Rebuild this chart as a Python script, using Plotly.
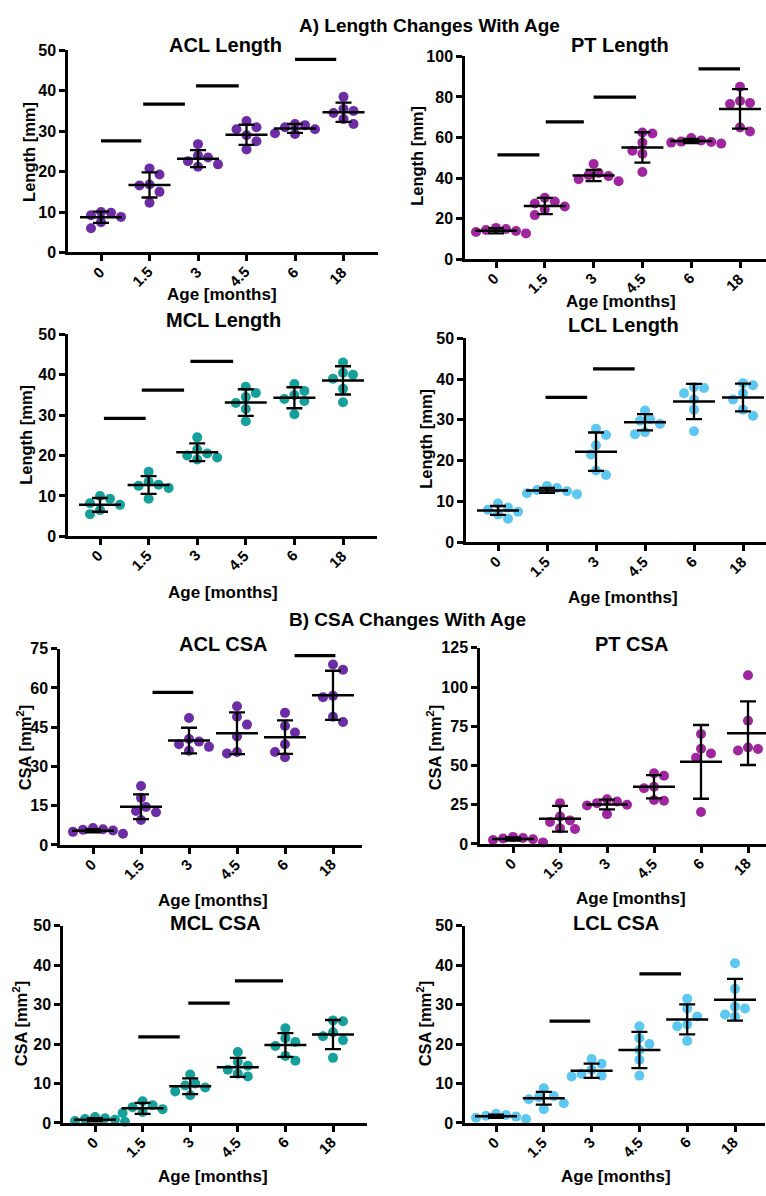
import numpy as np
import plotly.graph_objects as go

W, H = 766, 1196
FONT = "Liberation Sans, Arial, sans-serif"

ages = ["0", "1.5", "3", "4.5", "6", "18"]

# ---------------- data ----------------
acl_len_pts = [[9.8, 9.2, 10.0, 8.8, 7.5, 6.0], [20.8, 19.3, 16.8, 16.6, 15.0, 12.3],
               [26.8, 24.0, 23.5, 22.6, 21.8, 21.2], [32.5, 31.0, 30.5, 29.0, 27.5, 25.5],
               [31.5, 31.8, 31.0, 30.5, 29.5, 29.3], [38.5, 35.5, 35.0, 34.5, 33.0, 31.8]]
acl_len_mean = [8.7, 16.7, 23.2, 29.1, 30.7, 34.7]
acl_len_sd = [1.4, 3.1, 2.1, 2.5, 1.1, 2.4]
acl_len_sig = [(0.0, 0.83, 27.6), (0.87, 1.73, 36.7), (1.96, 2.84, 41.2), (4.0, 4.85, 47.8)]

pt_len_pts = [[15.5, 15.0, 14.5, 14.0, 13.5, 12.8], [30.3, 28.5, 27.5, 26.0, 24.5, 21.8],
              [47.0, 42.5, 41.5, 41.0, 39.5, 38.5], [62.5, 62.0, 57.5, 53.5, 52.0, 43.0],
              [59.8, 58.5, 58.0, 57.8, 57.5, 57.0], [85.0, 78.0, 77.0, 76.5, 65.0, 63.0]]
pt_len_mean = [14.1, 26.3, 41.3, 55.1, 58.3, 74.1]
pt_len_sd = [1.3, 4.0, 2.8, 7.5, 1.0, 9.7]
pt_len_sig = [(0.03, 0.89, 51.5), (1.02, 1.8, 67.7), (2.0, 2.87, 79.9), (4.15, 5.0, 93.8)]

mcl_len_pts = [[10.0, 9.3, 8.2, 7.8, 6.5, 5.5], [16.0, 13.5, 12.8, 12.0, 12.5, 9.3],
               [24.5, 21.5, 20.5, 20.0, 19.5, 19.0], [37.0, 35.5, 34.5, 33.0, 31.5, 28.5],
               [37.7, 36.0, 35.0, 34.0, 33.5, 30.2], [43.0, 40.5, 40.0, 39.0, 36.5, 33.2]]
mcl_len_mean = [7.8, 12.7, 20.8, 33.1, 34.3, 38.6]
mcl_len_sd = [1.7, 2.2, 2.2, 3.3, 2.6, 3.5]
mcl_len_sig = [(0.08, 0.94, 29.2), (0.86, 1.73, 36.2), (1.86, 2.74, 43.3)]

lcl_len_pts = [[9.5, 8.5, 8.0, 7.5, 6.8, 5.8], [13.8, 13.3, 12.8, 12.5, 12.0, 11.8],
               [27.8, 26.3, 23.8, 21.5, 17.6, 16.5], [32.3, 30.2, 29.8, 29.0, 27.0, 26.5],
               [38.0, 37.8, 36.5, 35.0, 32.5, 27.2], [39.0, 38.5, 36.5, 35.0, 32.5, 31.0]]
lcl_len_mean = [7.8, 12.7, 22.2, 29.4, 34.5, 35.5]
lcl_len_sd = [1.1, 0.6, 4.7, 2.0, 4.3, 3.4]
lcl_len_sig = [(0.97, 1.82, 35.5), (1.94, 2.79, 42.5)]

acl_csa_pts = [[6.5, 6.0, 5.8, 5.5, 5.0, 4.3], [22.5, 18.0, 14.5, 13.0, 12.5, 9.5],
               [48.5, 40.5, 39.5, 38.5, 37.5, 36.0], [53.0, 49.0, 46.0, 41.5, 35.5, 35.0],
               [50.5, 45.5, 43.0, 38.5, 35.5, 33.5], [69.0, 67.0, 57.0, 56.5, 49.0, 47.0]]
acl_csa_mean = [5.4, 14.6, 39.9, 42.7, 41.2, 57.2]
acl_csa_sd = [0.6, 4.7, 4.9, 8.0, 6.4, 9.4]
acl_csa_sig = [(1.24, 2.09, 58.3), (4.2, 5.05, 72.4)]

pt_csa_pts = [[4.5, 3.8, 3.5, 3.0, 2.5, 1.0], [26.0, 17.5, 15.0, 14.0, 10.0, 9.5],
              [28.5, 27.0, 26.0, 25.0, 24.5, 19.0], [45.0, 43.5, 36.5, 35.5, 28.0, 27.5],
              [70.1, 60.7, 57.6, 54.9, 20.3], [107.5, 78.5, 61.5, 60.5, 59.5, 57.0]]
pt_csa_mean = [3.1, 16.1, 25.1, 36.4, 52.3, 70.6]
pt_csa_sd = [1.0, 8.2, 3.1, 7.4, 23.5, 20.3]
pt_csa_sig = []

mcl_csa_pts = [[1.5, 1.2, 1.0, 0.8, 0.5, 0.3], [5.5, 4.5, 4.0, 3.5, 2.8, 2.5],
               [12.3, 10.0, 9.5, 9.0, 8.0, 7.0], [18.0, 15.5, 14.5, 13.5, 12.5, 11.8],
               [24.0, 21.5, 20.5, 19.5, 17.0, 15.8], [26.0, 25.8, 23.0, 21.0, 22.0, 16.5]]
mcl_csa_mean = [0.8, 3.7, 9.3, 14.1, 19.75, 22.4]
mcl_csa_sd = [0.4, 1.4, 2.0, 2.4, 3.0, 3.7]
mcl_csa_sig = [(0.91, 1.78, 21.8), (1.96, 2.83, 30.4), (2.94, 3.95, 36.0)]

lcl_csa_pts = [[2.3, 2.0, 1.8, 1.6, 1.3, 1.0], [8.8, 6.8, 6.5, 6.0, 5.0, 3.5],
               [16.2, 15.0, 13.5, 12.5, 12.0, 11.8], [24.5, 21.5, 20.0, 18.5, 16.0, 12.0],
               [31.5, 29.0, 27.0, 25.0, 24.5, 20.8], [40.5, 34.0, 29.5, 29.0, 27.5, 27.0]]
lcl_csa_mean = [1.7, 6.25, 13.25, 18.5, 26.25, 31.25]
lcl_csa_sd = [0.4, 1.6, 1.8, 4.6, 3.8, 5.3]
lcl_csa_sig = [(1.12, 1.97, 25.8), (3.0, 3.87, 37.8)]

# colours
PURPLE = "#6c2ca6"
MAGENTA = "#a0269f"
TEAL = "#15a09c"
LBLUE = "#5cc8f2"

LEN_T = "Length [mm]"
CSA_T = "CSA [mm<sup>2</sup>]"

# panel: title, pts, mean, sd, sig, color, ymax, dtick, ytitle,
#        layout px: xl, xr, ytop, y0, cat0, spacing, title(x,y), ytitle(x,y), xtitle(x,y)
panels = [
    ("ACL Length", acl_len_pts, acl_len_mean, acl_len_sd, acl_len_sig, PURPLE, 50, 10, LEN_T,
     (68, 378, 43, 248, 101, 48.5), (225, 38), (29, 146), (222, 291)),
    ("PT Length", pt_len_pts, pt_len_mean, pt_len_sd, pt_len_sig, MAGENTA, 100, 20, LEN_T,
     (465, 766, 49, 255, 496, 48.8), (620, 38), (417, 150), (621, 298)),
    ("MCL Length", mcl_len_pts, mcl_len_mean, mcl_len_sd, mcl_len_sig, TEAL, 50, 10, LEN_T,
     (68, 377, 331, 536, 100, 48.6), (223, 317), (26, 433), (223, 593)),
    ("LCL Length", lcl_len_pts, lcl_len_mean, lcl_len_sd, lcl_len_sig, LBLUE, 50, 10, LEN_T,
     (466, 766, 335, 542, 498, 49.0), (623, 322), (426, 437), (623, 598)),
    ("ACL CSA", acl_csa_pts, acl_csa_mean, acl_csa_sd, acl_csa_sig, PURPLE, 75, 15, CSA_T,
     (60, 362, 650, 849, 93, 48.0), (223, 645), (24, 750), (213, 905)),
    ("PT CSA", pt_csa_pts, pt_csa_mean, pt_csa_sd, pt_csa_sig, MAGENTA, 125, 25, CSA_T,
     (480, 766, 649, 848, 513, 47.0), (631, 645), (434, 750), (631, 903)),
    ("MCL CSA", mcl_csa_pts, mcl_csa_mean, mcl_csa_sd, mcl_csa_sig, TEAL, 50, 10, CSA_T,
     (63, 367, 931, 1131, 95, 47.6), (215, 928), (20, 1030), (213, 1185)),
    ("LCL CSA", lcl_csa_pts, lcl_csa_mean, lcl_csa_sd, lcl_csa_sig, LBLUE, 50, 10, CSA_T,
     (465, 765, 931, 1131, 496, 47.8), (616, 928), (424, 1030), (616, 1185)),
]

DOT = 10


def swarm(vals, py_per_unit, px_per_cat, d=10.0, step=5.0):
    """Simple balanced beeswarm: horizontal offsets (category units)."""
    vals = np.asarray(vals, float)
    order = np.argsort(vals)[::-1]
    placed = []
    offs = np.zeros(len(vals))
    for i in order:
        y = vals[i] * py_per_unit
        k = 0
        while True:
            if k == 0:
                cands = [0.0]
            else:
                right = sum(1 for p, _ in placed if p > 0)
                left = sum(1 for p, _ in placed if p < 0)
                cands = [-k * step, k * step] if right > left else [k * step, -k * step]
            ok = None
            for c in cands:
                if all((c - px) ** 2 + (y - py) ** 2 >= d * d for px, py in placed):
                    ok = c
                    break
            if ok is not None:
                placed.append((ok, y))
                offs[i] = ok / px_per_cat
                break
            k += 1
    return offs


fig = go.Figure()
annotations = []


def px2x(px):
    return px / W


def px2y(py):
    return 1 - py / H


for k, (title, pts, mean, sd, sig, color, ymax, dtick, ytitle,
        box, tpos, ypos, xpos) in enumerate(panels, start=1):
    xl, xr, ytop, y0, cat0, sp = box
    xa = "x" if k == 1 else f"x{k}"
    ya = "y" if k == 1 else f"y{k}"
    py_per_unit = (y0 - ytop) / ymax

    xs, ys = [], []
    for g, vals in enumerate(pts):
        offs = swarm(vals, py_per_unit, sp)
        xs += list(g + offs)
        ys += list(vals)
    fig.add_trace(go.Scatter(x=xs, y=ys, mode="markers", xaxis=xa, yaxis=ya,
                             marker=dict(size=DOT, color=color, line=dict(width=0)),
                             cliponaxis=False, showlegend=False, hoverinfo="y"))
    fig.add_trace(go.Scatter(x=list(range(len(ages))), y=mean, mode="markers", xaxis=xa, yaxis=ya,
                             marker=dict(symbol="line-ew", size=30, color="black",
                                         line=dict(width=2.5, color="black")),
                             error_y=dict(type="data", array=sd, visible=True, color="black",
                                          thickness=2.3, width=8),
                             cliponaxis=False, showlegend=False))
    for (s, e, yv) in sig:
        fig.add_trace(go.Scatter(x=[s, e], y=[yv, yv], mode="lines", xaxis=xa, yaxis=ya,
                                 line=dict(color="black", width=3.2), cliponaxis=False,
                                 showlegend=False, hoverinfo="skip"))

    axis_common = dict(showline=True, linecolor="black", linewidth=2.5, ticks="outside",
                       ticklen=6, tickwidth=2.5, tickcolor="black", showgrid=False,
                       zeroline=False)
    fig.update_layout(**{
        ("xaxis" if k == 1 else f"xaxis{k}"): dict(
            domain=[px2x(xl), px2x(xr)], anchor=ya,
            range=[(xl - cat0) / sp, (xr - cat0) / sp],
            tickmode="array", tickvals=list(range(len(ages))), ticktext=ages,
            showticklabels=False, **axis_common),
        ("yaxis" if k == 1 else f"yaxis{k}"): dict(
            domain=[px2y(y0), px2y(ytop)], anchor=xa,
            range=[0, ymax], tickmode="linear", tick0=0, dtick=dtick,
            tickfont=dict(family=FONT, size=16, color="black", weight="bold"),
            **axis_common),
    })

    # rotated category labels, end of text next to the tick
    for g, lab in enumerate(ages):
        annotations.append(dict(text=f"<b>{lab}</b>", x=g, y=px2y(y0 + 8), xref=xa, yref="paper",
                                xshift=9, showarrow=False, textangle=-45,
                                xanchor="right", yanchor="top",
                                font=dict(family=FONT, size=15, color="black")))

    annotations.append(dict(text=f"<b>{title}</b>", x=px2x(tpos[0]), y=px2y(tpos[1]),
                            xref="paper", yref="paper", showarrow=False,
                            xanchor="center", yanchor="middle",
                            font=dict(family=FONT, size=20, color="black")))
    annotations.append(dict(text=f"<b>{ytitle}</b>", x=px2x(ypos[0]), y=px2y(ypos[1]),
                            xref="paper", yref="paper", showarrow=False, textangle=-90,
                            xanchor="center", yanchor="middle",
                            font=dict(family=FONT, size=16.5, color="black")))
    annotations.append(dict(text="<b>Age [months]</b>", x=px2x(xpos[0]), y=px2y(xpos[1]),
                            xref="paper", yref="paper", showarrow=False,
                            xanchor="center", yanchor="middle",
                            font=dict(family=FONT, size=17, color="black")))

annotations.append(dict(text="<b>A) Length Changes With Age</b>", x=px2x(429), y=px2y(18),
                        xref="paper", yref="paper", showarrow=False,
                        xanchor="center", yanchor="middle",
                        font=dict(family=FONT, size=19, color="black")))
annotations.append(dict(text="<b>B) CSA Changes With Age</b>", x=px2x(407), y=px2y(620),
                        xref="paper", yref="paper", showarrow=False,
                        xanchor="center", yanchor="middle",
                        font=dict(family=FONT, size=19, color="black")))

fig.update_layout(width=W, height=H, margin=dict(l=0, r=0, t=0, b=0),
                  paper_bgcolor="white", plot_bgcolor="white",
                  annotations=annotations, showlegend=False)

fig.write_html("out.html")
